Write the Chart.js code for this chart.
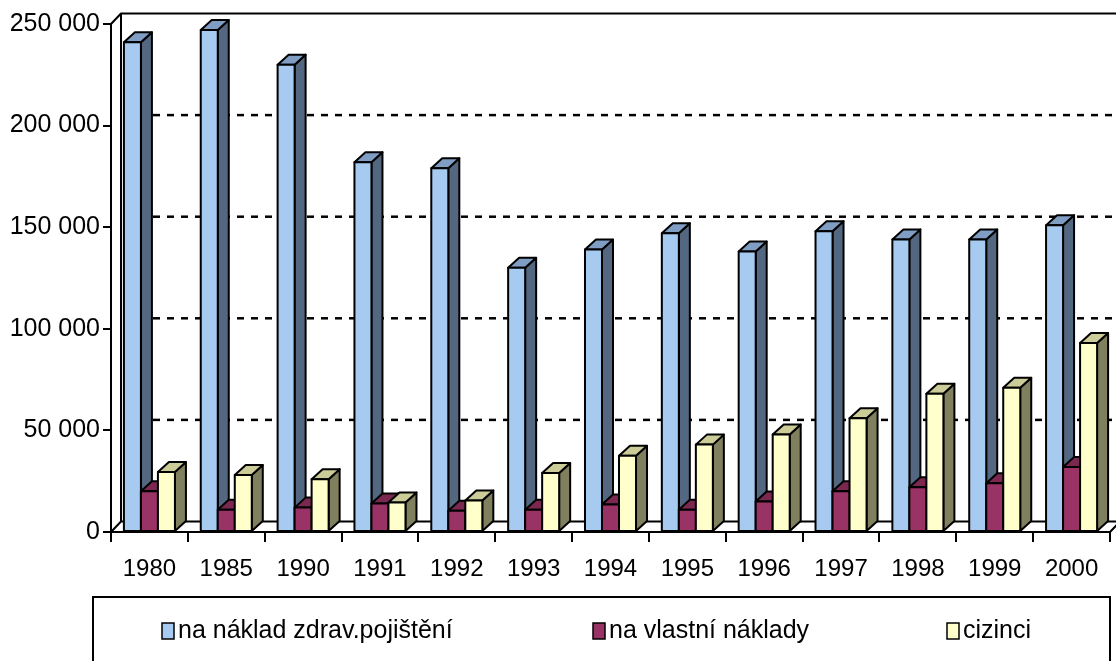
<!DOCTYPE html>
<html>
<head>
<meta charset="utf-8">
<script src="https://cdn.jsdelivr.net/npm/chart.js@4.4.1/dist/chart.umd.min.js"></script>
<style>
html, body { margin: 0; padding: 0; background: #fff; }
#wrap { width: 1116px; height: 661px; position: relative; }
</style>
</head>
<body>
<div id="wrap"><canvas id="chart"></canvas></div>
<script>
var years = ['1980', '1985', '1990', '1991', '1992', '1993', '1994', '1995', '1996', '1997', '1998', '1999', '2000'];
var pojisteni = [241000, 247000, 230000, 182000, 179000, 130000, 139000, 147000, 138000, 148000, 144000, 144000, 151000];
var vlastni = [20000, 11000, 12000, 14000, 10500, 11000, 13500, 11000, 15000, 20000, 22000, 24000, 32000];
var cizinci = [29500, 28000, 26000, 14500, 15500, 29000, 37500, 43000, 48000, 56000, 68000, 71000, 93000];
var seriesNames = ['na náklad zdrav.pojištění', 'na vlastní náklady', 'cizinci'];
var yTicks = [0, 50000, 100000, 150000, 200000, 250000];

// front / side / top colours of the boxes
var faces = [
    ['#a6caf0', '#536880', '#809dc3'],
    ['#993366', '#6b2347', '#7a2850'],
    ['#ffffcc', '#80805f', '#cccc99']
];

var FONT = "'Liberation Sans', Arial, sans-serif";
var DX = 11, DY = -10;     // bar depth
var WX = 10, WY = -10.5;   // wall depth

function fmt(v) {
    return String(v).replace(/\B(?=(\d{3})+(?!\d))/g, ' ');
}

function poly(ctx, pts, fill) {
    ctx.beginPath();
    ctx.moveTo(pts[0][0], pts[0][1]);
    for (var k = 1; k < pts.length; k++) ctx.lineTo(pts[k][0], pts[k][1]);
    ctx.closePath();
    if (fill) { ctx.fillStyle = fill; ctx.fill(); }
    ctx.stroke();
}

var box3d = {
    id: 'box3d',
    beforeDatasetsDraw: function (chart) {
        var ctx = chart.ctx, a = chart.chartArea, ys = chart.scales.y;
        var y0 = ys.getPixelForValue(0);
        var yTop = ys.getPixelForValue(yTicks[yTicks.length - 1]);
        ctx.save();
        ctx.strokeStyle = '#000';
        ctx.lineWidth = 2;
        ctx.lineJoin = 'round';
        // floor
        poly(ctx, [[a.left, y0], [a.left + WX, y0 + WY], [a.right + WX, y0 + WY], [a.right, y0]], '#fff');
        // back wall left edge + top
        ctx.beginPath();
        ctx.moveTo(a.left + WX, y0 + WY);
        ctx.lineTo(a.left + WX, yTop + WY);
        ctx.lineTo(a.right + WX + 20, yTop + WY);
        ctx.moveTo(a.left, yTop);
        ctx.lineTo(a.left + WX, yTop + WY);
        ctx.stroke();
        // dashed gridlines on the back wall
        ctx.setLineDash([7, 7]);
        ctx.lineWidth = 2.5;
        yTicks.forEach(function (v) {
            if (v === 0 || v === yTicks[yTicks.length - 1]) return;
            var py = ys.getPixelForValue(v) + WY;
            ctx.beginPath();
            ctx.moveTo(a.left + WX + 4, py);
            ctx.lineTo(a.right + WX + 20, py);
            ctx.stroke();
        });
        ctx.restore();
    },
    afterDatasetsDraw: function (chart) {
        var ctx = chart.ctx;
        var metas = chart.data.datasets.map(function (d, i) { return chart.getDatasetMeta(i); });
        ctx.save();
        ctx.strokeStyle = '#000';
        ctx.lineWidth = 2;
        ctx.lineJoin = 'round';
        for (var j = 0; j < years.length; j++) {
            for (var i = 0; i < metas.length; i++) {
                var b = metas[i].data[j];
                var l = b.x - b.width / 2, r = b.x + b.width / 2, t = b.y, base = b.base;
                var f = faces[i];
                poly(ctx, [[r, t], [r + DX, t + DY], [r + DX, base + DY], [r, base]], f[1]);
                poly(ctx, [[l, t], [l + DX, t + DY], [r + DX, t + DY], [r, t]], f[2]);
                poly(ctx, [[l, t], [r, t], [r, base], [l, base]], f[0]);
            }
        }
        ctx.restore();
    },
    afterDraw: function (chart) {
        var ctx = chart.ctx;
        ctx.save();
        ctx.strokeStyle = '#000';
        ctx.lineWidth = 2;
        ctx.strokeRect(93, 597, 1017, 90);
        var xs = [162, 593, 947];
        ctx.font = '25px ' + FONT;
        ctx.textBaseline = 'middle';
        chart.data.datasets.forEach(function (d, i) {
            ctx.lineWidth = 1.5;
            ctx.fillStyle = faces[i][0];
            ctx.fillRect(xs[i], 623, 12, 16);
            ctx.strokeRect(xs[i], 623, 12, 16);
            ctx.fillStyle = '#000';
            ctx.fillText(d.label, xs[i] + 16, 631);
        });
        ctx.restore();
    }
};

var ctx = document.getElementById('chart').getContext('2d');
var chart = new Chart(ctx, {
    type: 'bar',
    data: {
        labels: years,
        datasets: [
            { label: seriesNames[0], data: pojisteni },
            { label: seriesNames[1], data: vlastni },
            { label: seriesNames[2], data: cizinci }
        ]
    },
    options: {
        responsive: true,
        maintainAspectRatio: false,
        animation: false,
        events: [],
        layout: { padding: { top: 24, right: 6, bottom: 79, left: 0 } },
        datasets: {
            bar: {
                backgroundColor: 'transparent',
                borderWidth: 0,
                categoryPercentage: 0.664,
                barPercentage: 1
            }
        },
        plugins: {
            legend: { display: false },
            tooltip: { enabled: false }
        },
        scales: {
            x: {
                grid: { drawOnChartArea: false, drawTicks: true, tickLength: 10, color: '#000', lineWidth: 2, offset: true },
                border: { display: true, color: '#000', width: 2 },
                ticks: { color: '#000', font: { family: FONT, size: 24 }, padding: 13, maxRotation: 0 },
                afterFit: function (s) { s.height = 50; }
            },
            y: {
                min: 0,
                max: 250000,
                grid: { drawOnChartArea: false, drawTicks: true, tickLength: 8, color: '#000', lineWidth: 2 },
                border: { display: true, color: '#000', width: 2 },
                ticks: {
                    color: '#000',
                    font: { family: FONT, size: 25 },
                    padding: 3,
                    stepSize: 50000,
                    callback: function (v) { return fmt(v); }
                },
                afterFit: function (s) { s.width = 111; }
            }
        }
    },
    plugins: [box3d]
});
</script>
</body>
</html>
